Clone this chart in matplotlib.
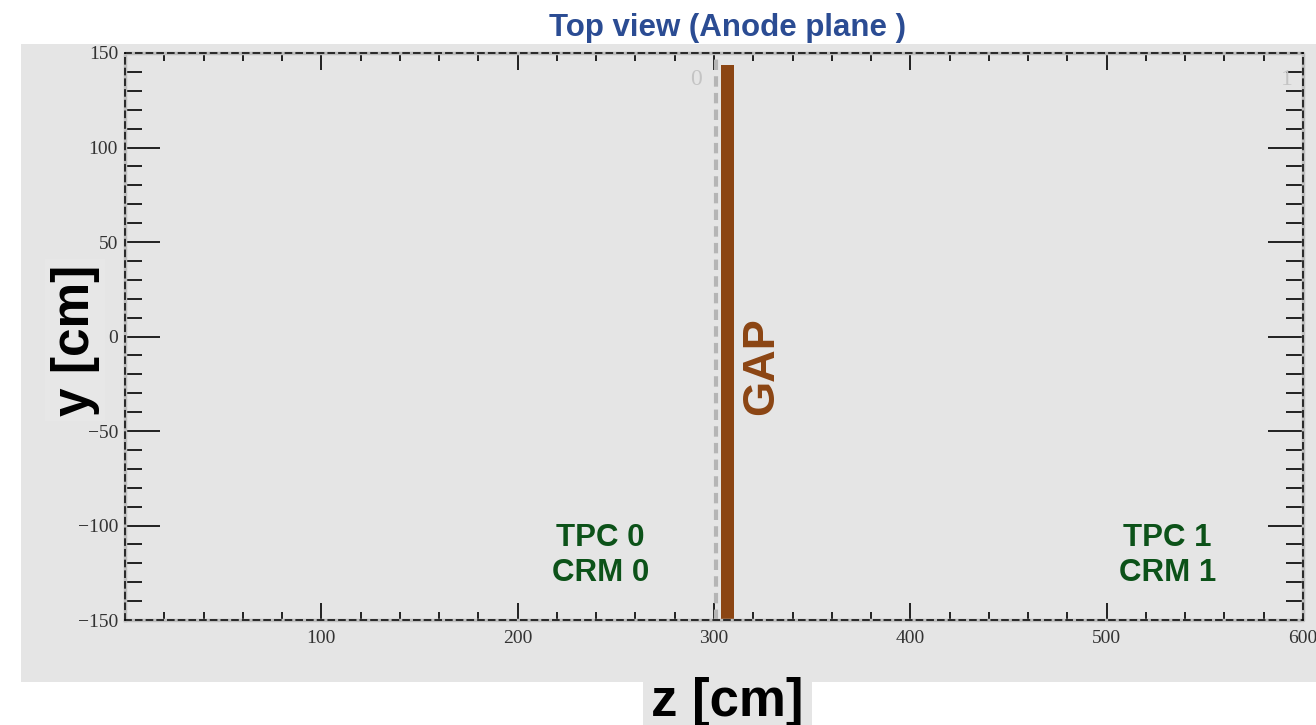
import matplotlib
matplotlib.use("Agg")
import matplotlib.pyplot as plt
import matplotlib.ticker as ticker

# axis ranges
z_range = [0, 600]
y_range = [-150, 150]

# gap between the two CRMs
gap_z = [303.6, 310.2]
gap_y = [-150, 143.6]
boundary_z = 301

# labels
tpc_labels = ["TPC 0\nCRM 0", "TPC 1\nCRM 1"]
tpc_z = [242, 531]
tpc_y = [-116, -116]
crm_ids = ["0", "1"]
crm_id_z = [291, 592]

brown = "#8b4513"
green = "#0c5219"
blue = "#2b4c93"

fig = plt.figure(figsize=(13.16, 7.25), dpi=100)
fig.patch.set_facecolor("white")

# gray canvas behind the plot
bg = fig.add_axes([0.016, 0.0593, 0.984, 0.88])
bg.set_facecolor("#e5e5e5")
bg.set_xticks([])
bg.set_yticks([])
for s in bg.spines.values():
    s.set_visible(False)

ax = fig.add_axes([0.0950, 0.1448, 0.8951, 0.7821])
ax.set_facecolor("none")
ax.set_xlim(*z_range)
ax.set_ylim(*y_range)

# gap bar and boundary line
ax.fill_betweenx(gap_y, gap_z[0], gap_z[1], color=brown, zorder=3, linewidth=0)
ax.plot([boundary_z, boundary_z], y_range, color="#b5b5b5", lw=3, ls=(0, (2.5, 1.5)), zorder=2)
ax.text(324.5, -15.5, "GAP", rotation=90, color=brown, fontsize=32.5, fontweight="bold",
        family="Liberation Sans", ha="center", va="center")

for lab, z, y in zip(tpc_labels, tpc_z, tpc_y):
    ax.text(z, y, lab, color=green, fontsize=22.5, fontweight="bold", family="Liberation Sans",
            ha="center", va="center", linespacing=1.2)
for lab, z in zip(crm_ids, crm_id_z):
    ax.text(z, 136, lab, color="#c4c4c4", fontsize=17, family="Liberation Serif",
            ha="center", va="center")

# ROOT-like axes
ax.xaxis.set_major_locator(ticker.MultipleLocator(100))
ax.xaxis.set_minor_locator(ticker.MultipleLocator(20))
ax.yaxis.set_major_locator(ticker.MultipleLocator(50))
ax.yaxis.set_minor_locator(ticker.MultipleLocator(10))
ax.xaxis.set_major_formatter(ticker.FuncFormatter(lambda v, p: "" if v == 0 else "%d" % v))
ax.yaxis.set_major_formatter(ticker.FuncFormatter(lambda v, p: ("\u2212%d" % -v) if v < 0 else "%d" % v))

ax.tick_params(which="both", direction="in", top=True, right=True, color="black", width=1.2)
ax.tick_params(axis="x", which="major", length=12.5, pad=7)
ax.tick_params(axis="x", which="minor", length=6)
ax.tick_params(axis="y", which="major", length=25, pad=5)
ax.tick_params(axis="y", which="minor", length=12)
for lab in ax.get_xticklabels() + ax.get_yticklabels():
    lab.set_family("Liberation Serif")
    lab.set_fontsize(14)
    lab.set_color("#333333")

for s in ax.spines.values():
    s.set_linestyle((0, (4, 3)))
    s.set_linewidth(1.1)
    s.set_color("black")
    s.set_zorder(5)
ax.plot([0, 1, 1, 0, 0], [0, 0, 1, 1, 0], transform=ax.transAxes, color="#bdbdbd",
        lw=2.5, clip_on=False, zorder=4)

fig.text(0.553, 0.962, "Top view (Anode plane )", color=blue, fontsize=22.5, fontweight="bold",
         family="Liberation Sans", ha="center", va="center")
fig.text(0.057, 0.531, "y [cm]", rotation=90, color="black", fontsize=37, fontweight="bold",
         family="Liberation Sans", ha="center", va="center",
         bbox=dict(facecolor="#e7e7e7", edgecolor="none", pad=4))
fig.text(0.553, 0.032, "z [cm]", color="black", fontsize=38, fontweight="bold",
         family="Liberation Sans", ha="center", va="center",
         bbox=dict(facecolor="#e5e5e5", edgecolor="none", pad=6))

fig.savefig("out.png", dpi=100)
